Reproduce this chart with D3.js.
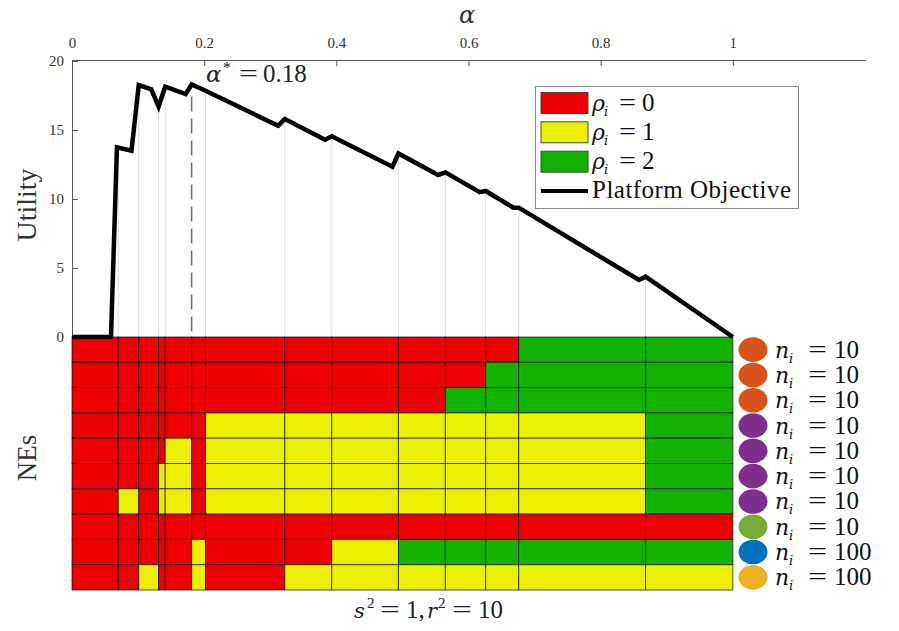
<!DOCTYPE html>
<html>
<head>
<meta charset="utf-8">
<script src="https://cdn.jsdelivr.net/npm/d3@7"></script>
<style>
  body { margin: 0; background: #fff; }
</style>
</head>
<body>
<div id="chart"></div>
<script>
// alpha breakpoints between the NE columns
var breaks = [0, 0.070, 0.101, 0.131, 0.141, 0.181, 0.202, 0.322, 0.393, 0.494, 0.565, 0.626, 0.676, 0.868, 1.0];
var alphaStar = 0.181;

// NE state per player (row) and alpha column: 0 red, 1 yellow, 2 green
var neRows = [
  [0,0,0,0,0,0,0,0,0,0,0,0,2,2],
  [0,0,0,0,0,0,0,0,0,0,0,2,2,2],
  [0,0,0,0,0,0,0,0,0,0,2,2,2,2],
  [0,0,0,0,0,0,1,1,1,1,1,1,1,2],
  [0,0,0,0,1,0,1,1,1,1,1,1,1,2],
  [0,0,0,1,1,0,1,1,1,1,1,1,1,2],
  [0,1,0,1,1,0,1,1,1,1,1,1,1,2],
  [0,0,0,0,0,0,0,0,0,0,0,0,0,0],
  [0,0,0,0,0,1,0,0,1,2,2,2,2,2],
  [0,0,1,0,0,1,0,1,1,1,1,1,1,1]
];

// platform objective curve
var curveAlpha = [0, 0.059, 0.068, 0.090, 0.101, 0.120, 0.131, 0.141, 0.172, 0.181, 0.202, 0.312, 0.322,
                  0.383, 0.393, 0.485, 0.494, 0.554, 0.565, 0.617, 0.626, 0.668, 0.676, 0.858, 0.868, 1.0];
var curveUtil = [0, 0, 13.75, 13.5, 18.26, 17.95, 16.7, 18.14, 17.6, 18.3, 17.85, 15.3, 15.8,
                 14.3, 14.55, 12.34, 13.3, 11.74, 11.93, 10.49, 10.58, 9.37, 9.37, 4.13, 4.37, 0];

// players on the right
var playerN = [10, 10, 10, 10, 10, 10, 10, 10, 100, 100];
var playerColor = ["#D95319", "#D95319", "#D95319", "#7E2F8E", "#7E2F8E", "#7E2F8E", "#7E2F8E", "#77AC30", "#0072BD", "#EDB120"];

var xTicks = [0, 0.2, 0.4, 0.6, 0.8, 1];
var yTicks = [0, 5, 10, 15, 20];
var stateColor = ["#ec0000", "#ebf000", "#11b300"];
var stateLabel = ["0", "1", "2"];

var width = 899, height = 631;
var serif = "Liberation Serif, serif";
var mathIt = "DejaVu Serif, serif";

var svg = d3.select("#chart").append("svg")
    .attr("width", width)
    .attr("height", height)
    .attr("font-family", serif);

var x = d3.scaleLinear().domain([0, 1.2]).range([72, 865]);
var yU = d3.scaleLinear().domain([0, 20]).range([337, 61]);
var yRow = d3.scaleBand().domain(d3.range(neRows.length)).range([337, 590]);

// pieces of a math label: [text, x, italic?, size, dy, textLength]
function mathText(sel, parts) {
    parts.forEach(function(p) {
        var t = sel.append("tspan").attr("x", p[1]).text(p[0]);
        if (p[2]) t.attr("font-family", mathIt).attr("font-style", "italic");
        if (p[3]) t.attr("font-size", p[3]);
        if (p[4]) t.attr("dy", p[4]);
        if (p[5]) t.attr("textLength", p[5]).attr("lengthAdjust", "spacingAndGlyphs");
    });
}

// gray guide lines from curve down to 0 at each breakpoint
var interp = function(a) {
    for (var i = 1; i < curveAlpha.length; i++) {
        if (a <= curveAlpha[i]) {
            var t = (a - curveAlpha[i - 1]) / (curveAlpha[i] - curveAlpha[i - 1]);
            return curveUtil[i - 1] + t * (curveUtil[i] - curveUtil[i - 1]);
        }
    }
    return 0;
};

svg.append("g").selectAll("line")
    .data(breaks.slice(1, -1).filter(function(d) { return d !== alphaStar; }))
    .enter().append("line")
    .attr("x1", function(d) { return x(d); })
    .attr("x2", function(d) { return x(d); })
    .attr("y1", function(d) { return yU(interp(d)); })
    .attr("y2", yU(0))
    .attr("stroke", "#dcdcdc")
    .attr("stroke-width", 1);

// dashed optimum line
svg.append("line")
    .attr("x1", x(alphaStar)).attr("x2", x(alphaStar))
    .attr("y1", yU(interp(alphaStar)) + 12).attr("y2", yU(0))
    .attr("stroke", "#6e6e6e")
    .attr("stroke-width", 1.5)
    .attr("stroke-dasharray", "15,7");

// NE heatmap
var cells = [];
neRows.forEach(function(row, r) {
    row.forEach(function(s, c) {
        cells.push({ r: r, c: c, s: s });
    });
});

svg.append("g").selectAll("rect")
    .data(cells)
    .enter().append("rect")
    .attr("x", function(d) { return x(breaks[d.c]); })
    .attr("y", function(d) { return yRow(d.r); })
    .attr("width", function(d) { return x(breaks[d.c + 1]) - x(breaks[d.c]); })
    .attr("height", yRow.bandwidth())
    .attr("fill", function(d) { return stateColor[d.s]; })
    .attr("stroke", "rgba(0,0,0,0.65)")
    .attr("stroke-width", 1);

// axes
var topAxis = svg.append("g")
    .attr("transform", "translate(0,60)")
    .call(d3.axisTop(x).tickValues(xTicks).tickFormat(d3.format("")).tickSizeInner(-6).tickSizeOuter(0).tickPadding(12));

var leftAxis = svg.append("g")
    .attr("transform", "translate(72,0)")
    .call(d3.axisLeft(yU).tickValues(yTicks).tickSizeInner(-6).tickSizeOuter(0).tickPadding(8));
leftAxis.select(".domain").attr("d", "M0.5," + yU(0) + "V60");

[topAxis, leftAxis].forEach(function(a) {
    a.attr("font-family", serif).attr("font-size", 15);
    a.selectAll(".domain, .tick line").attr("stroke", "#555");
    a.selectAll("text").attr("fill", "#333");
});

// utility curve
var line = d3.line()
    .x(function(d, i) { return x(curveAlpha[i]); })
    .y(function(d) { return yU(d); });

svg.append("path")
    .datum(curveUtil)
    .attr("d", line)
    .attr("fill", "none")
    .attr("stroke", "#000")
    .attr("stroke-width", 4.5)
    .attr("stroke-linejoin", "miter");

// alpha* annotation
var ann = svg.append("text")
    .attr("y", 82)
    .attr("font-size", 25)
    .attr("fill", "#222");
mathText(ann, [["α", 206, true, 23], ["*", 223, false, 16, -9], ["=", 239, false, 0, 9, 19], ["0.18", 263]]);

// axis titles
svg.append("text")
    .attr("x", 467).attr("y", 23)
    .attr("text-anchor", "middle")
    .attr("font-size", 24)
    .attr("font-family", mathIt)
    .attr("font-style", "italic")
    .attr("fill", "#333")
    .text("α");

svg.append("text")
    .attr("transform", "translate(36,205) rotate(-90)")
    .attr("text-anchor", "middle")
    .attr("font-size", 28)
    .attr("fill", "#333")
    .text("Utility");

svg.append("text")
    .attr("transform", "translate(36,458) rotate(-90)")
    .attr("text-anchor", "middle")
    .attr("font-size", 27)
    .attr("fill", "#333")
    .text("NEs");

var xl = svg.append("text")
    .attr("y", 618)
    .attr("font-size", 25)
    .attr("fill", "#222");
mathText(xl, [["s", 354, true, 21], ["2", 367, false, 15, -10], ["=", 380, false, 0, 10, 20], ["1,", 406],
              ["r", 427, true, 21], ["2", 438, false, 15, -10], ["=", 452, false, 0, 10, 20], ["10", 478]]);

// legend
var legend = svg.append("g");
legend.append("rect")
    .attr("x", 535.5).attr("y", 86.5)
    .attr("width", 263).attr("height", 122)
    .attr("fill", "#fff")
    .attr("stroke", "#8a8a8a");

var legY = [103, 132.3, 161.7];
stateColor.forEach(function(c, i) {
    legend.append("rect")
        .attr("x", 541).attr("y", legY[i] - 10.5)
        .attr("width", 47).attr("height", 21)
        .attr("fill", c)
        .attr("stroke", "#444");
    var t = legend.append("text")
        .attr("y", legY[i] + 7.5)
        .attr("font-size", 25)
        .attr("fill", "#111");
    mathText(t, [["ρ", 592, true, 22], ["i", 604, true, 13, 5], ["=", 619, false, 0, -5, 17], [stateLabel[i], 642]]);
});
legend.append("line")
    .attr("x1", 541).attr("x2", 588)
    .attr("y1", 191).attr("y2", 191)
    .attr("stroke", "#000").attr("stroke-width", 4);
legend.append("text")
    .attr("x", 592).attr("y", 198)
    .attr("font-size", 25)
    .attr("textLength", 199)
    .attr("lengthAdjust", "spacing")
    .attr("fill", "#111")
    .text("Platform Objective");

// player markers on the right
var players = svg.append("g").selectAll("g")
    .data(playerN)
    .enter().append("g")
    .attr("transform", function(d, i) { return "translate(0," + (yRow(i) + yRow.bandwidth() / 2) + ")"; });

players.append("ellipse")
    .attr("cx", 753).attr("cy", 0)
    .attr("rx", 14.5).attr("ry", 12.3)
    .attr("fill", function(d, i) { return playerColor[i]; });

players.each(function(d) {
    var pt = d3.select(this).append("text")
        .attr("y", 8)
        .attr("font-size", 25)
        .attr("fill", "#111");
    mathText(pt, [["n", 775, true, 22], ["i", 789, true, 13, 5], ["=", 808, false, 0, -5, 19], [String(d), 834]]);
});
</script>
</body>
</html>
